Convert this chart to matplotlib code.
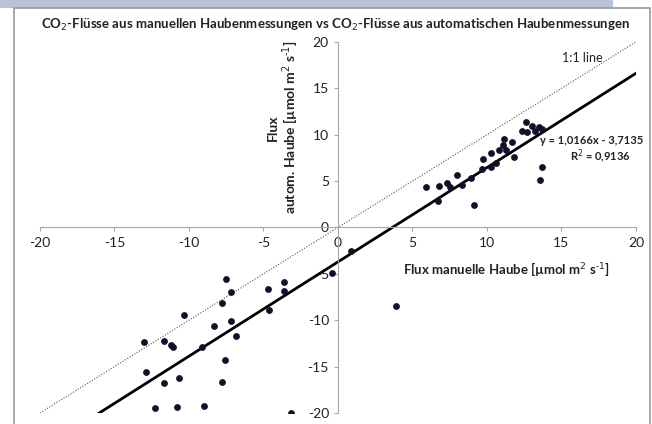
import matplotlib.pyplot as plt
from matplotlib.patches import Rectangle

# manual chamber flux (x) vs automatic chamber flux (y)
manual_flux = [5.9, 6.8, 7.3, 7.5, 8.0, 8.3, 6.7, 8.9, 9.1, 9.7, 9.75, 10.3, 10.3, 10.6,
               10.8, 11.05, 11.15, 11.3, 11.7, 11.8, 12.35, 12.6, 12.7, 13.05, 13.2, 13.5,
               13.7, 13.7, 13.55,
               0.9, -0.4, 3.9,
               -7.5, -7.2, -7.8, -10.3, -4.7, -3.6, -3.6, -4.65, -8.3, -7.2, -6.85, -13.0,
               -11.7, -11.2, -11.1, -9.1, -7.6, -12.9, -11.7, -10.65, -7.8, -12.3, -10.8,
               -9.0, -3.15]
auto_flux = [4.35, 4.5, 4.75, 4.4, 5.7, 4.6, 2.85, 5.3, 2.4, 6.3, 7.35, 6.55, 8.05, 7.0,
             8.35, 8.85, 9.5, 8.35, 9.25, 7.65, 10.4, 11.4, 10.3, 10.9, 10.4, 10.8,
             10.6, 6.5, 5.1,
             -2.55, -4.9, -8.5,
             -5.6, -7.0, -8.1, -9.4, -6.6, -5.9, -6.8, -8.9, -10.6, -10.1, -11.7, -12.3,
             -12.2, -12.65, -12.9, -12.9, -14.3, -15.6, -16.8, -16.25, -16.7, -19.5, -19.4,
             -19.2, -20.0]

slope = 1.0166
intercept = -3.7135
r_squared = 0.9136
fit_x = [(-20 - intercept) / slope, 20]
one_to_one = [-20, 20]

ticks = [-20, -15, -10, -5, 0, 5, 10, 15, 20]

plt.rcParams['font.family'] = ['Lato', 'DejaVu Sans']
plt.rcParams['axes.unicode_minus'] = False

fig = plt.figure(figsize=(6.52, 4.24), dpi=100)

# window strip and chart frame like the spreadsheet screenshot
fig.patches.append(Rectangle((0, 0.982), 0.94, 0.018, transform=fig.transFigure,
                             facecolor='#b8c4d6', edgecolor='none'))
fig.patches.append(Rectangle((0.022, -0.01), 0.975, 0.99, transform=fig.transFigure,
                             facecolor='none', edgecolor='#9a9a9a', linewidth=1.2))

ax = fig.add_axes([0.0613, 0.026, 0.914, 0.875])
ax.set_xlim(-20, 20)
ax.set_ylim(-20, 20)

ax.plot(one_to_one, one_to_one, color='#555555', linestyle=(0, (1, 1.5)), linewidth=0.8)
ax.plot(fit_x, [slope * v + intercept for v in fit_x], color='black', linewidth=2)
ax.scatter(manual_flux, auto_flux, s=15, color='#101028', zorder=3)

for side in ['top', 'right']:
    ax.spines[side].set_visible(False)
for side in ['left', 'bottom']:
    ax.spines[side].set_position('zero')
    ax.spines[side].set_color('#a8a8a8')
ax.set_xticks(ticks)
ax.set_yticks(ticks)
ax.tick_params(colors='#a8a8a8', labelcolor='#222222', labelsize=10, length=3)

unit = '[µmol m$^2$ s$^{\\text{-1}}$]'

ax.text(16.4, 18.3, '1:1 line', fontsize=9, ha='center', va='center', color='#222222')
ax.text(17.0, 9.4, 'y = 1,0166x - 3,7135', fontsize=8, fontweight='bold',
        ha='center', va='center', color='#222222', clip_on=False)
ax.text(17.6, 7.7, 'R$^2$ = 0,9136', fontsize=8, fontweight='bold',
        ha='center', va='center', color='#222222')

ax.text(11.3, -4.5, 'Flux manuelle Haube ' + unit, fontsize=9.5,
        fontweight='bold', ha='center', va='center', color='#222222')
ax.text(-3.6, 10.8, 'Flux\nautom. Haube ' + unit, fontsize=10,
        fontweight='bold', ha='center', va='center', rotation=90, color='#222222',
        linespacing=1.1)

fig.text(0.514, 0.94, 'CO$_2$-Flüsse aus manuellen Haubenmessungen vs CO$_2$-Flüsse aus automatischen Haubenmessungen',
         fontsize=9.5, fontweight='bold', ha='center', va='center', color='#222222')

fig.savefig('out.png', dpi=100)
